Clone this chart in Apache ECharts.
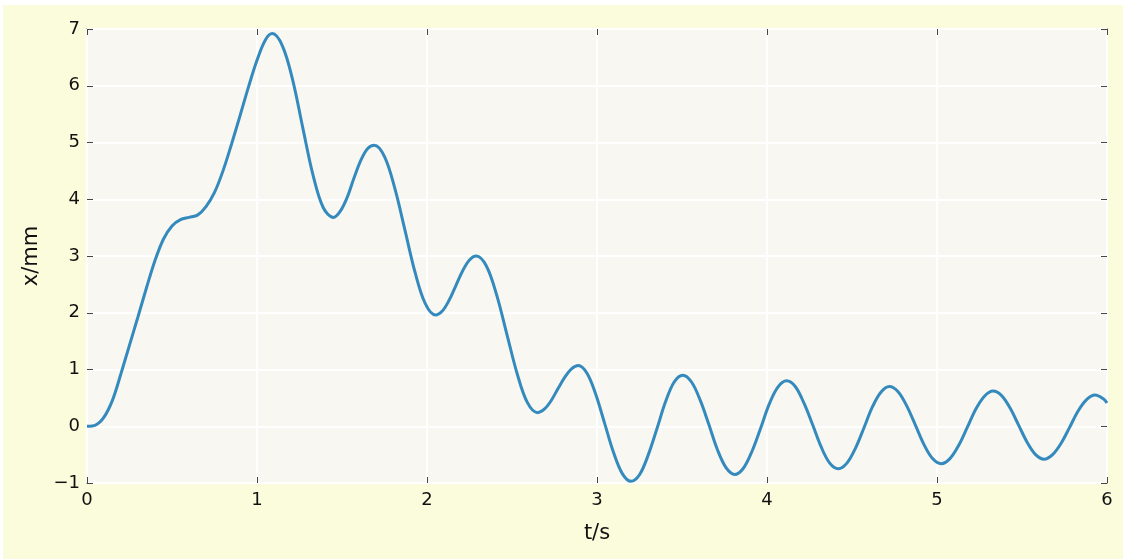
<!DOCTYPE html>
<html>
<head>
<meta charset="utf-8">
<script src="https://cdn.jsdelivr.net/npm/echarts@6/dist/echarts.min.js"></script>
<style>
  html, body { margin: 0; padding: 0; background: #ffffff; }
  #bg { position: absolute; left: 3px; top: 5px; width: 1120px; height: 554px; background: #fbfcdc; }
  #chart { position: absolute; left: 0; top: 0; width: 1123px; height: 559px; }
</style>
</head>
<body>
<div id="bg"></div>
<div id="chart"></div>
<script>
// time samples (s), denser around the turning points
const timeS = [
  0.00,0.05,0.10,0.15,0.20,0.25,0.30,0.35,0.40,0.45,
  0.50,0.55,0.60,0.65,0.70,0.75,0.80,0.85,0.90,0.95,
  1.00,1.05,1.09,
  1.15,1.21,1.27,1.33,1.39,1.45,
  1.49,1.53,1.57,1.61,1.65,1.69,
  1.75,1.81,1.87,1.93,1.99,2.05,
  2.09,2.13,2.17,2.21,2.25,2.29,
  2.35,2.41,2.47,2.53,2.59,2.65,
  2.69,2.73,2.77,2.81,2.85,2.89,
  2.942,2.993,3.045,3.097,3.148,3.20,
  3.251,3.302,3.353,3.403,3.454,3.505,
  3.556,3.607,3.658,3.708,3.759,3.81,
  3.861,3.912,3.963,4.013,4.064,4.115,
  4.166,4.217,4.268,4.318,4.369,4.42,
  4.47,4.52,4.57,4.62,4.67,4.72,
  4.771,4.822,4.873,4.923,4.974,5.025,
  5.076,5.127,5.178,5.228,5.279,5.33,
  5.38,5.43,5.48,5.53,5.58,5.63,
  5.68,5.73,5.78,5.83,5.88,5.93,
  5.98,6.00
];
// displacement (mm)
const dispMM = [
  0.00,0.02,0.16,0.46,0.93,1.43,1.93,2.44,2.92,3.30,
  3.53,3.64,3.68,3.72,3.87,4.12,4.50,4.97,5.47,5.98,
  6.45,6.81,6.92,
  6.70,6.10,5.25,4.42,3.85,3.68,
  3.79,4.03,4.37,4.68,4.89,4.95,
  4.75,4.20,3.46,2.71,2.16,1.96,
  2.03,2.22,2.48,2.74,2.93,3.00,
  2.82,2.31,1.62,0.93,0.42,0.24,
  0.30,0.45,0.66,0.86,1.01,1.07,
  0.93,0.56,0.05,-0.46,-0.83,-0.97,
  -0.85,-0.50,-0.04,0.43,0.78,0.90,
  0.78,0.46,0.03,-0.41,-0.73,-0.85,
  -0.74,-0.44,-0.03,0.39,0.69,0.80,
  0.70,0.41,0.03,-0.36,-0.65,-0.75,
  -0.65,-0.39,-0.03,0.34,0.60,0.70,
  0.61,0.36,0.02,-0.32,-0.57,-0.66,
  -0.57,-0.34,-0.02,0.30,0.53,0.62,
  0.54,0.32,0.02,-0.28,-0.50,-0.58,
  -0.50,-0.30,-0.02,0.27,0.47,0.55,
  0.48,0.41
];
const xTicks = [0, 1, 2, 3, 4, 5, 6];
const yTicks = [-1, 0, 1, 2, 3, 4, 5, 6, 7];

const FONT = 'DejaVu Sans';
const fmt = v => (v < 0 ? '\u2212' + Math.abs(v) : String(v));
const tickStyle = { show: true, inside: true, length: 6, lineStyle: { color: '#444', width: 1 } };
const hiddenLine = { show: false, onZero: false };

const chart = echarts.init(document.getElementById('chart'), null, { renderer: 'canvas' });
chart.setOption({
  backgroundColor: 'transparent',
  animation: false,
  grid: {
    left: 87, right: 16, top: 29, bottom: 76,
    show: true, backgroundColor: '#f8f7f2', borderColor: '#bdbdbd', borderWidth: 2
  },
  xAxis: [{
    type: 'value', min: xTicks[0], max: xTicks[xTicks.length - 1], interval: 1,
    name: 't/s', nameLocation: 'middle', nameGap: 40,
    nameTextStyle: { fontFamily: FONT, fontSize: 21, color: '#111' },
    axisLine: hiddenLine,
    axisTick: tickStyle,
    axisLabel: { fontFamily: FONT, fontSize: 18, color: '#111', margin: 8, formatter: fmt },
    splitLine: { show: true, lineStyle: { color: '#ffffff', width: 2 } }
  }, {
    type: 'value', position: 'top', min: xTicks[0], max: xTicks[xTicks.length - 1], interval: 1,
    axisLine: hiddenLine, axisTick: tickStyle, axisLabel: { show: false }, splitLine: { show: false }
  }],
  yAxis: [{
    type: 'value', min: yTicks[0], max: yTicks[yTicks.length - 1], interval: 1,
    name: 'x/mm', nameLocation: 'middle', nameGap: 45,
    nameTextStyle: { fontFamily: FONT, fontSize: 21, color: '#111' },
    axisLine: hiddenLine,
    axisTick: tickStyle,
    axisLabel: { fontFamily: FONT, fontSize: 18, color: '#111', margin: 7, formatter: fmt },
    splitLine: { show: true, lineStyle: { color: '#ffffff', width: 2 } }
  }, {
    type: 'value', position: 'right', min: yTicks[0], max: yTicks[yTicks.length - 1], interval: 1,
    axisLine: hiddenLine, axisTick: tickStyle, axisLabel: { show: false }, splitLine: { show: false }
  }],
  series: [{
    type: 'line',
    data: timeS.map((t, i) => [t, dispMM[i]]),
    smooth: 0.35,
    showSymbol: false,
    lineStyle: { color: '#348abd', width: 3 },
    clip: true
  }]
});
</script>
</body>
</html>
